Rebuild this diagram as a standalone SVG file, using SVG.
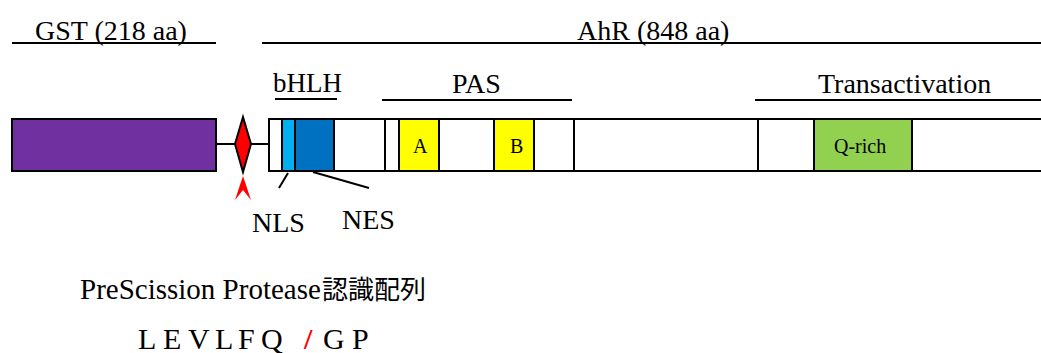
<svg xmlns="http://www.w3.org/2000/svg" width="1041" height="353" viewBox="0 0 1041 353">
<style>
.t{font-family:"Liberation Serif","Times New Roman",serif;fill:#000}
.big{font-size:28px}
.sm{font-size:20px}
.box{stroke:#000;stroke-width:2}
.ln{stroke:#000;stroke-width:2;fill:none}
</style>
<rect width="1041" height="353" fill="#fff"/>
<g id="labels">
<text class="t big" x="35" y="40" font-size="28.8">GST (218 aa)</text>
<line class="ln" x1="12" y1="43" x2="216" y2="43"/>
<text class="t big" x="577" y="40">AhR (848 aa)</text>
<line class="ln" x1="262" y1="43" x2="1041" y2="43"/>
<text class="t big" x="273" y="92" style="font-size:27px">bHLH</text>
<line class="ln" x1="275" y1="99" x2="337" y2="99"/>
<text class="t big" x="452" y="93">PAS</text>
<line class="ln" x1="382" y1="100" x2="572" y2="100"/>
<text class="t big" x="818" y="93">Transactivation</text>
<line class="ln" x1="755" y1="100" x2="1041" y2="100"/>
</g>
<g id="connectors">
<line class="ln" x1="216" y1="144" x2="269" y2="144"/>
<line class="ln" x1="288" y1="173" x2="279" y2="188"/>
<line class="ln" x1="313" y1="172" x2="369" y2="188"/>
</g>
<g id="gst">
<rect class="box" x="12" y="119" width="204" height="52" fill="#7030A0"/>
</g>
<g id="cleavage-site">
<polygon class="box" points="243,117 251,144 243,172 235,144" fill="#FF0000"/>
<polygon points="243,176 251,200 243,190 235,200" fill="#FF0000"/>
</g>
<g id="ahr">
<rect class="box" x="269" y="119" width="780" height="52" fill="#fff"/>
<rect class="box" x="282" y="119" width="13" height="52" fill="#00B0F0"/>
<rect class="box" x="295" y="119" width="39" height="52" fill="#0070C0"/>
<line class="ln" x1="385" y1="119" x2="385" y2="171"/>
<line class="ln" x1="574" y1="119" x2="574" y2="171"/>
<line class="ln" x1="758" y1="119" x2="758" y2="171"/>
</g>
<g id="pas-a">
<rect class="box" x="399" y="119" width="40" height="52" fill="#FFFF00"/>
<text class="t sm" x="413" y="153">A</text>
</g>
<g id="pas-b">
<rect class="box" x="494" y="119" width="40" height="52" fill="#FFFF00"/>
<text class="t sm" x="510" y="153">B</text>
</g>
<g id="q-rich">
<rect class="box" x="814" y="119" width="98" height="52" fill="#92D050"/>
<text class="t sm" x="834" y="153" font-size="21">Q-rich</text>
</g>
<g id="nls"><text class="t big" x="252" y="232">NLS</text></g>
<g id="nes"><text class="t big" x="342" y="229">NES</text></g>
<g id="recognition">
<text class="t" x="80" y="299" font-size="29">PreScission Protease<tspan x="322" font-family="'Noto Sans CJK JP','Noto Sans CJK SC',sans-serif" font-size="26">認識配列</tspan></text>
<text class="t" y="349" font-size="30"><tspan x="138 163 188 215 238 261">LEVLFQ</tspan><tspan x="304" fill="#FF0000" font-weight="bold">/</tspan><tspan x="323 352">GP</tspan></text>
</g>
</svg>
